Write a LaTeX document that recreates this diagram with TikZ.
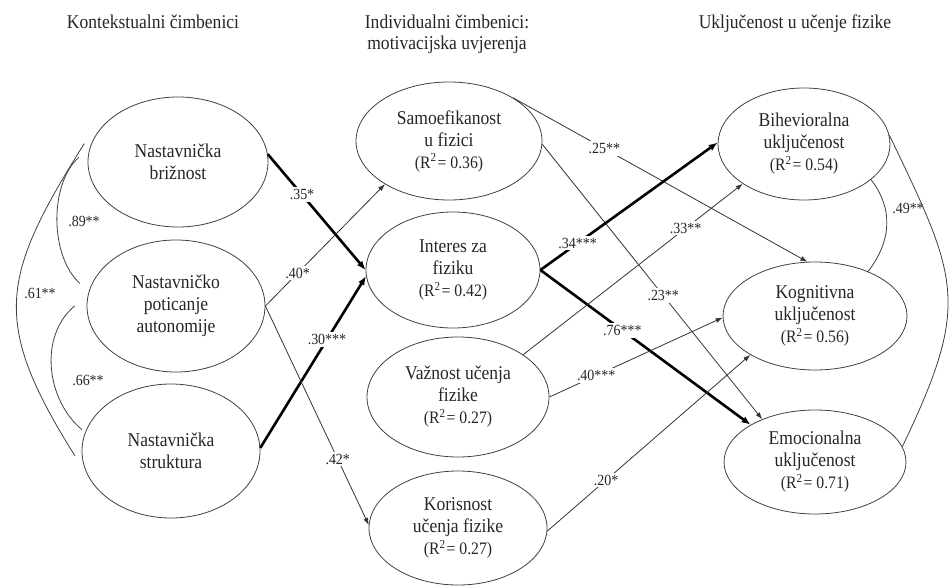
\documentclass[tikz,border=0pt]{standalone}
\usepackage{fontspec}
\setmainfont{Liberation Serif}[FakeStretch=0.9]
\usetikzlibrary{arrows.meta,shapes.geometric}

\newcommand{\rsqr}[1]{{\fontsize{17.5}{22}\selectfont(R\textsuperscript{2}\kern1pt= #1)}}

\begin{document}
\begin{tikzpicture}[
  x=1pt, y=1pt,
  var/.style={draw=black!75, line width=0.8pt, ellipse, inner sep=0pt, align=center, text=black!85, font=\fontsize{19.5}{22}\selectfont},
  ctx/.style={var, minimum width=180pt, minimum height=132pt},
  mot/.style={var, minimum width=182pt, minimum height=118pt},
  eng/.style={var, minimum width=180pt, minimum height=108pt},
  path/.style={-{Latex[length=7pt,width=5pt]}, line width=0.8pt, black!80},
  strong/.style={-{Latex[length=9pt,width=7pt]}, line width=2.6pt, black},
  cov/.style={line width=0.8pt, black!75},
  lbl/.style={fill=white, inner sep=2pt, font=\fontsize{15.5}{17}\selectfont, text=black!85},
  title/.style={anchor=north, inner sep=0pt, align=center, font=\fontsize{19.5}{21}\selectfont, text=black!85}
]
  \useasboundingbox (0,0) rectangle (949,-588);

  % column titles
  \node[title] (tctx) at (153,-15) {Kontekstualni čimbenici};
  \node[title] (tmot) at (447,-15) {Individualni čimbenici:\\motivacijska uvjerenja};
  \node[title] (teng) at (795,-15) {Uključenost u učenje fizike};

  % contextual factors
  \node[ctx, minimum height=130pt] (bri) at (178,-162) {Nastavnička\\brižnost};
  \node[ctx, minimum width=178pt] (aut) at (176,-306) {Nastavničko\\poticanje\\autonomije};
  \node[ctx, minimum width=178pt, minimum height=134pt] (str) at (171,-451) {Nastavnička\\struktura};

  % motivational beliefs
  \node[mot, minimum width=186pt] (sam) at (449,-141) {Samoefikanost\\u fizici\\\rsqr{0.36}};
  \node[mot, minimum width=174pt, minimum height=116pt] (int) at (453,-270) {Interes za\\fiziku\\\rsqr{0.42}};
  \node[mot, minimum height=120pt] (vaz) at (458,-397) {Važnost učenja\\fizike\\\rsqr{0.27}};
  \node[mot, minimum width=178pt, minimum height=114pt] (kor) at (458,-528) {Korisnost\\učenja fizike\\\rsqr{0.27}};

  % engagement
  \node[eng, minimum width=172pt, minimum height=112pt] (bih) at (804,-144) {Bihevioralna\\uključenost\\\rsqr{0.54}};
  \node[eng, minimum width=184pt] (kog) at (815,-316) {Kognitivna\\uključenost\\\rsqr{0.56}};
  \node[eng, minimum width=182pt, minimum height=104pt] (emo) at (815,-462) {Emocionalna\\uključenost\\\rsqr{0.71}};

  % paths
  \draw[strong] (bri.5) -- node[lbl,pos=.35] (p1) {.35*} (int.180);
  \draw[path] (aut.0) -- node[lbl,pos=.27] (p2) {.40*} (sam.214);
  \draw[strong] (str.2) -- node[lbl,pos=.63] (p3) {.30***} (int.184);
  \draw[path] (aut.0) -- node[lbl,pos=.70] (p4) {.42*} (kor.178);
  \draw[path] (sam.34) -- node[lbl,pos=.31] (p5) {.25**} (kog.98);
  \draw[path] (sam.358) -- node[lbl,pos=.55] (p6) {.23**} (emo.141);
  \draw[strong] (int.0) -- node[lbl,pos=.21] (p7) {.34***} (bih.179);
  \draw[strong] (int.0) -- node[lbl,pos=.39] (p8) {.76***} (emo.150);
  \draw[path] (vaz.33) -- node[lbl,pos=.74] (p9) {.33**} (bih.213);
  \draw[path] (vaz.0) -- node[lbl,pos=.27] (p10) {.40***} (kog.181);
  \draw[path] (kor.358) -- node[lbl,pos=.29] (p11) {.20*} (kog.211);

  % correlations
  \draw[cov] ([xshift=-9pt]bri.177) .. controls +(-30,-27) and +(-30,27) .. ([xshift=-12pt]aut.165);
  \draw[cov] ([xshift=-12pt]aut.180) .. controls +(-36,-30) and +(-36,30) .. ([xshift=-4pt]str.166);
  \draw[cov] ([xshift=-7pt]bri.168) .. controls +(-84,-134) and +(-84,134) .. ([xshift=-7pt]str.183);
  \draw[cov] (bih.332) .. controls +(23,-30) and +(23,30) .. (kog.40);
  \draw[cov] (bih.6) .. controls +(69,-144) and +(69,144) .. (emo.10);
  \node[lbl, fill=none] (c89) at (84,-221) {.89**};
  \node[lbl, fill=none] (c66) at (88,-380) {.66**};
  \node[lbl, fill=none] (c61) at (40,-293) {.61**};
  \node[lbl, fill=none] (c49) at (908,-208) {.49**};
\end{tikzpicture}
\end{document}
